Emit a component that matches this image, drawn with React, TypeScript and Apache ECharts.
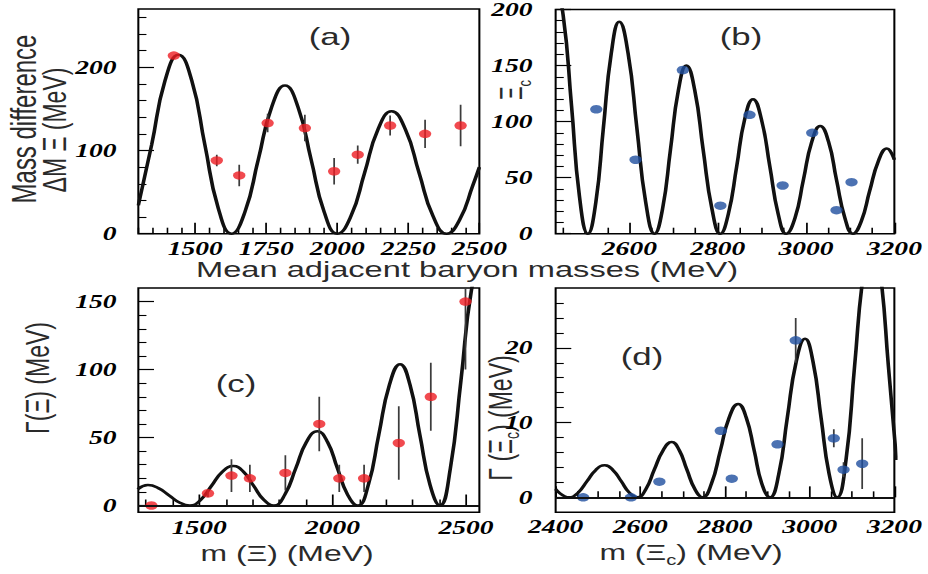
import React, { useEffect, useRef } from "react";
import * as echarts from "echarts";

// Horizontal stretch of the original figure
const S = 1.45;
const W = 928 / S;
const H = 574;

// ---------- Panel (a): mass differences of Xi ----------
const aX = [1425, 1576, 1655, 1755, 1886, 1989, 2072, 2186, 2309, 2434];
const aY = [214, 88, 70, 133, 127, 75, 95, 130, 120, 130];
const aErr = [0, 7, 13, 11, 16, 16, 11, 12, 17, 25];
const aCurve: number[][] = [
  [1300, 34], [1347, 107], [1394, 184], [1441, 215], [1488, 184], [1534, 107], [1581, 31], [1628, 0],
  [1675, 26], [1722, 89], [1769, 152], [1816, 178], [1862, 152], [1908, 89], [1954, 26], [2000, 0],
  [2048, 21], [2096, 73], [2143, 125], [2191, 147], [2240, 125], [2288, 73], [2337, 21], [2385, 0],
  [2431, 17], [2477, 58], [2500, 80],
];
const aXTicks = [1500, 1750, 2000, 2250, 2500];
const aYTicks = [0, 100, 200];

// ---------- Panel (b): mass differences of Xi_c ----------
const bX = [2525, 2614, 2721, 2806, 2872, 2947, 3014, 3069, 3103];
const bY = [111, 66, 146, 25, 106, 43, 90, 21, 46];
const bCurve: number[][] = [
  [2430, 228], [2450, 195], [2469, 114], [2487, 33], [2506, 0],
  [2524, 28], [2541, 94], [2559, 161], [2577, 189], [2597, 161], [2617, 94], [2637, 28], [2657, 0],
  [2675, 22], [2693, 75], [2711, 128], [2729, 150], [2748, 128], [2767, 75], [2787, 22], [2806, 0],
  [2824, 17.5], [2843, 60], [2861, 102], [2880, 120], [2899, 102], [2918, 60], [2937, 17.5], [2955, 0],
  [2975, 14], [2994, 48], [3013, 82], [3032, 96], [3051, 82], [3069, 48], [3088, 14], [3106, 0],
  [3125, 11], [3144, 38], [3164, 65], [3183, 76], [3200, 66],
];
const bXTicks = [2600, 2800, 3000, 3200];
const bYTicks = [0, 50, 100, 150, 200];

// ---------- Panel (c): widths of Xi ----------
const cX = [1321, 1533, 1621, 1690, 1823, 1950, 2025, 2118, 2248, 2368, 2498];
const cY = [0, 9, 22, 20, 24, 60, 20, 20, 46, 80, 150];
const cErr = [0, 3, 12, 10, 13, 20, 10, 10, 27, 25, 50];
const cCurve: number[][] = [
  [1270, 12], [1308, 15], [1347, 12.8], [1387, 7.5], [1426, 2.2], [1465, 0],
  [1506, 4.2], [1546, 14.5], [1587, 24.8], [1628, 29], [1666, 24.8], [1704, 14.5], [1742, 4.2], [1780, 0],
  [1821, 8], [1862, 27.4], [1902, 46.7], [1943, 54.7], [1981, 46.7], [2018, 27.4], [2056, 8], [2094, 0],
  [2134, 15.2], [2173, 52], [2213, 88.8], [2253, 104], [2290, 88.8], [2327, 52], [2365, 15.2], [2402, 0],
  [2441, 27], [2481, 92], [2520, 158], [2560, 185],
];
const cXTicks = [1500, 2000, 2500];
const cYTicks = [0, 50, 100, 150];

// ---------- Panel (d): widths of Xi_c ----------
const dX = [2465, 2578, 2645, 2790, 2816, 2924, 2967, 3057, 3080, 3124];
const dY = [0, 0, 2.1, 8.9, 2.5, 7.1, 21, 7.9, 3.7, 4.5];
const dErr = [0, 0, 0, 0, 0, 0, 3, 1.2, 1, 3.4];
const dCurve: number[][] = [
  [2400, 1.1], [2432, 0],
  [2453, 0.63], [2474, 2.15], [2495, 3.67], [2516, 4.3], [2535, 3.67], [2555, 2.15], [2574, 0.63], [2593, 0],
  [2613, 1.08], [2633, 3.7], [2654, 6.3], [2674, 7.4], [2692, 6.3], [2710, 3.7], [2729, 1.08], [2747, 0],
  [2768, 1.83], [2789, 6.25], [2810, 10.7], [2831, 12.5], [2850, 10.7], [2869, 6.25], [2887, 1.83], [2906, 0],
  [2927, 3.1], [2947, 10.6], [2968, 18.1], [2989, 21.2], [3008, 18.1], [3027, 10.6], [3046, 3.1], [3065, 0],
  [3086, 5.1], [3106, 17.5], [3127, 29.9], [3148, 35], [3167, 29.9], [3186, 17.5], [3205, 5],
];
const dXTicks = [2400, 2600, 2800, 3000, 3200];
const dYTicks = [0, 10, 20];

const RED = "#ee1d23";
const BLUE = "#1f4f9f";

function steps(from: number, to: number, step: number, skip: number[]): number[] {
  const out: number[] = [];
  for (let v = from; v <= to + 1e-9; v += step) {
    const r = Math.round(v * 1000) / 1000;
    if (!skip.some((s) => Math.abs(s - r) < 1e-6)) out.push(r);
  }
  return out;
}

type Panel = {
  grid: { left: number; top: number; width: number; height: number };
  xMin: number; xMax: number; yMin: number; yMax: number;
  xMajor: number[]; xMinor: number[]; yMajor: number[]; yMinor: number[];
  yLabelGap: number; xLabelGap: number;
};

const panels: Panel[] = [
  {
    grid: { left: 95.4, top: 9, width: 235.2, height: 224.7 },
    xMin: 1300, xMax: 2500, yMin: 0, yMax: 270,
    xMajor: aXTicks, xMinor: steps(1300, 2500, 50, aXTicks),
    yMajor: aYTicks, yMinor: steps(20, 260, 20, aYTicks),
    yLabelGap: 15, xLabelGap: 7.5,
  },
  {
    grid: { left: 383.2, top: 9, width: 233.6, height: 224.7 },
    xMin: 2433, xMax: 3200, yMin: 0, yMax: 200,
    xMajor: bXTicks, xMinor: steps(2450, 3150, 50, bXTicks),
    yMajor: bYTicks, yMinor: steps(10, 190, 10, bYTicks),
    yLabelGap: 16, xLabelGap: 7.5,
  },
  {
    grid: { left: 95.4, top: 288, width: 235.2, height: 224.3 },
    xMin: 1272, xMax: 2550, yMin: -5, yMax: 160,
    xMajor: cXTicks, xMinor: steps(1300, 2500, 100, cXTicks),
    yMajor: cYTicks, yMinor: steps(10, 150, 10, cYTicks),
    yLabelGap: 15, xLabelGap: 8.5,
  },
  {
    grid: { left: 383.2, top: 288, width: 233.6, height: 224.3 },
    xMin: 2400, xMax: 3200, yMin: -2, yMax: 28,
    xMajor: dXTicks, xMinor: steps(2450, 3150, 50, dXTicks),
    yMajor: dYTicks, yMinor: steps(2, 26, 2, dYTicks),
    yLabelGap: 16, xLabelGap: 7.5,
  },
];

const tickFont = {
  fontFamily: "Liberation Serif",
  fontWeight: "bold" as const,
  fontStyle: "italic" as const,
  fontSize: 19,
  color: "#000",
};

function buildOption() {
  const grid = panels.map((p) => ({
    ...p.grid,
    show: true,
    borderColor: "#000",
    borderWidth: 1.4,
    backgroundColor: "transparent",
  }));
  const xAxis: any[] = [];
  const yAxis: any[] = [];
  panels.forEach((p, gi) => {
    xAxis.push({
      type: "value", gridIndex: gi, min: p.xMin, max: p.xMax, position: "bottom",
      axisLine: { show: false }, splitLine: { show: false },
      axisTick: { show: true, inside: true, length: 11, customValues: p.xMajor, lineStyle: { color: "#000", width: 1.2 } },
      axisLabel: {
        show: true, customValues: p.xMajor, margin: p.xLabelGap, showMinLabel: true, showMaxLabel: true,
        formatter: (v: number) => String(v), ...tickFont, lineHeight: 14,
      },
    });
    xAxis.push({
      type: "value", gridIndex: gi, min: p.xMin, max: p.xMax, position: "bottom",
      axisLine: { show: false }, splitLine: { show: false },
      axisTick: { show: true, inside: true, length: 6, customValues: p.xMinor, lineStyle: { color: "#000", width: 1.1 } },
      axisLabel: { show: false },
    });
    yAxis.push({
      type: "value", gridIndex: gi, min: p.yMin, max: p.yMax, position: "left",
      axisLine: { show: false }, splitLine: { show: false },
      axisTick: { show: true, inside: true, length: 10.8, customValues: p.yMajor, lineStyle: { color: "#000", width: 1.2 } },
      axisLabel: {
        show: true, customValues: p.yMajor, margin: p.yLabelGap, showMinLabel: true, showMaxLabel: true,
        formatter: (v: number) => String(v), ...tickFont, lineHeight: 14,
      },
    });
    yAxis.push({
      type: "value", gridIndex: gi, min: p.yMin, max: p.yMax, position: "left",
      axisLine: { show: false }, splitLine: { show: false },
      axisTick: { show: true, inside: true, length: 5.6, customValues: p.yMinor, lineStyle: { color: "#000", width: 1.1 } },
      axisLabel: { show: false },
    });
  });

  const curves = [aCurve, bCurve, cCurve, dCurve];
  const pts = [
    { x: aX, y: aY, e: aErr, c: RED },
    { x: bX, y: bY, e: bX.map(() => 0), c: BLUE },
    { x: cX, y: cY, e: cErr, c: RED },
    { x: dX, y: dY, e: dErr, c: BLUE },
  ];

  const series: any[] = [];
  panels.forEach((p, gi) => {
    const axes = { xAxisIndex: gi * 2, yAxisIndex: gi * 2 };
    const line: any = {
      type: "line", ...axes, data: curves[gi], smooth: 0.5, showSymbol: false, symbol: "none",
      clip: true, z: 2, lineStyle: { color: "#111", width: 2.5 }, silent: true,
    };
    if (gi >= 2) {
      line.markLine = {
        silent: true, symbol: "none", animation: false,
        label: { show: false },
        lineStyle: { color: "#111", width: 2, type: "solid" },
        data: [{ yAxis: 0 }],
      };
    }
    series.push(line);
    const P = pts[gi];
    const errData = P.x
      .map((x, i) => [x, P.y[i] - P.e[i], P.y[i] + P.e[i], P.e[i]])
      .filter((d) => d[3] > 0);
    series.push({
      type: "custom", ...axes, data: errData, clip: true, z: 3, silent: true,
      encode: { x: 0, y: [1, 2] },
      renderItem: (params: any, api: any) => {
        const p1 = api.coord([api.value(0), api.value(1)]);
        const p2 = api.coord([api.value(0), api.value(2)]);
        return {
          type: "line",
          shape: { x1: p1[0], y1: p1[1], x2: p2[0], y2: p2[1] },
          style: { stroke: "#3c3c3c", lineWidth: 1.2 },
        };
      },
    });
    series.push({
      type: "scatter", ...axes, data: P.x.map((x, i) => [x, P.y[i]]),
      symbol: "circle", symbolSize: 8.5, z: 4, silent: true,
      itemStyle: { color: P.c },
    });
  });

  const titleFont = { fontFamily: "Liberation Sans", fill: "#2a2a2a" };
  const txt = (x: number, y: number, text: string, fontSize: number, rot = 0, rich?: any) => ({
    type: "text",
    x: x / S,
    y,
    rotation: rot,
    style: {
      text, fontSize, ...titleFont, align: "center", verticalAlign: "middle",
      ...(rich ? { rich } : {}),
    },
  });
  const subRich = (fs: number) => ({
    n: { fontSize: fs, fontFamily: "Liberation Sans", color: "#2a2a2a", lineHeight: fs + 8, verticalAlign: "middle" },
    s: { fontSize: Math.round(fs * 0.62), fontFamily: "Liberation Sans", color: "#2a2a2a", lineHeight: Math.round(fs * 0.62), verticalAlign: "bottom" },
  });

  const graphic = [
    txt(330, 37, "(a)", 24),
    txt(741, 37, "(b)", 24),
    txt(236, 384, "(c)", 24),
    txt(642, 357, "(d)", 24),
    txt(467, 269.5, "Mean adjacent baryon masses (MeV)", 22.5),
    txt(287, 553, "m (Ξ) (MeV)", 22),
    txt(691, 552, "{n|m (Ξ}{s|c}{n|) (MeV)}", 22, 0, subRich(22)),
    txt(24, 119, "Mass difference", 24, Math.PI / 2),
    txt(54, 130, "ΔM Ξ (MeV)", 23, Math.PI / 2),
    txt(512, 90, "{n|Ξ}{s|c}", 21, Math.PI / 2, subRich(21)),
    txt(37, 378, "Γ(Ξ) (MeV)", 23, Math.PI / 2),
    txt(500, 418, "{n|Γ (Ξ}{s|c}{n|) (MeV)}", 23, Math.PI / 2, subRich(23)),
  ];

  return {
    animation: false,
    backgroundColor: "#fff",
    grid,
    xAxis,
    yAxis,
    series,
    graphic,
  };
}

export default function App() {
  const ref = useRef<HTMLDivElement>(null);
  useEffect(() => {
    if (!ref.current) return;
    const chart = echarts.init(ref.current, null, { renderer: "svg" });
    chart.setOption(buildOption() as any);
    return () => chart.dispose();
  }, []);
  return (
    <div
      ref={ref}
      style={{
        position: "absolute",
        left: 0,
        top: 0,
        width: W,
        height: H,
        transform: `scaleX(${S})`,
        transformOrigin: "0 0",
        background: "#fff",
      }}
    />
  );
}
